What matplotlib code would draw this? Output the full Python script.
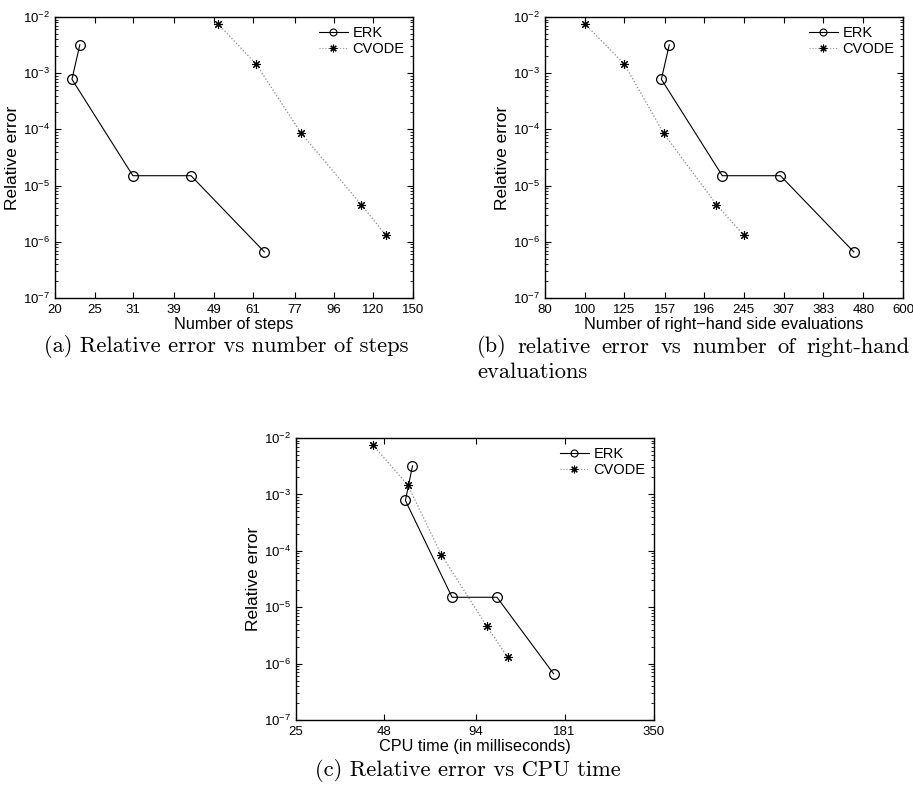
import numpy as np
import matplotlib
matplotlib.use("Agg")
import matplotlib.pyplot as plt
from matplotlib.lines import Line2D
from matplotlib.ticker import LogLocator, NullFormatter, NullLocator

plt.rcParams['font.family'] = ['Liberation Sans', 'DejaVu Sans']
plt.rcParams['mathtext.fontset'] = 'custom'
plt.rcParams['mathtext.rm'] = 'Liberation Sans'
plt.rcParams['mathtext.it'] = 'Liberation Sans:italic'

# data
erk_err = [3.2e-3, 7.8e-4, 1.5e-5, 1.5e-5, 6.6e-7]
cvode_err = [7.6e-3, 1.46e-3, 8.5e-5, 4.6e-6, 1.3e-6]

erk_steps = [23, 22, 31, 43, 65]
cvode_steps = [50, 62, 80, 112, 129]

erk_rhs = [161, 154, 217, 301, 455]
cvode_rhs = [100, 125, 156, 210, 245]

erk_cpu = [59, 56, 79, 110, 167]
cvode_cpu = [44, 57, 73, 102, 119]

steps_ticks = [20, 25, 31, 39, 49, 61, 77, 96, 120, 150]
rhs_ticks = [80, 100, 125, 157, 196, 245, 307, 383, 480, 600]
cpu_ticks = [25, 48, 94, 181, 350]

W, H = 913, 796
fig = plt.figure(figsize=(W / 100, H / 100), dpi=100)

ASTER = (8, 2, 0)


def panel(rect, xe, xc, ticks, xlabel):
    ax = fig.add_axes(rect)
    ax.plot(xe, erk_err, '-o', color='black', lw=0.8, ms=7, mfc='none',
            mew=0.9, label='ERK')
    ax.plot(xc, cvode_err, ':', color='#888888', lw=0.9)
    ax.plot(xc, cvode_err, marker=ASTER, color='black', ms=6.5, mew=0.8, ls='none')
    ax.set_xscale('log')
    ax.set_yscale('log')
    ax.set_xlim(ticks[0], ticks[-1])
    ax.set_ylim(1e-7, 1e-2)
    ax.set_xticks(ticks)
    ax.set_xticklabels([str(t) for t in ticks])
    ax.xaxis.set_minor_locator(NullLocator())
    ax.yaxis.set_major_locator(LogLocator(base=10, numticks=10))
    ax.yaxis.set_minor_locator(LogLocator(base=10, subs=np.arange(2, 10), numticks=10))
    ax.yaxis.set_minor_formatter(NullFormatter())
    ax.tick_params(which='both', direction='in', top=True, right=True, labelsize=9.5)
    ax.tick_params(axis='x', pad=4)
    ax.tick_params(which='major', length=4, width=0.8)
    ax.tick_params(which='minor', length=2, width=0.6)
    for s in ax.spines.values():
        s.set_linewidth(1.0)
    ax.set_xlabel(xlabel, fontsize=11.7, labelpad=1)
    ax.set_ylabel('Relative error', fontsize=12.5, labelpad=2)
    h1 = Line2D([], [], color='black', lw=0.8, marker='o', mfc='none', ms=5, mew=0.8)
    h2 = Line2D([], [], color='#999999', ls=':', lw=0.8, marker=ASTER, mfc='black',
                mec='black', ms=5.5, mew=0.8)
    ax.legend([h1, h2], ['ERK', 'CVODE'], loc='upper right', frameon=False,
              fontsize=10.5, handlelength=2.0, handletextpad=0.3, borderaxespad=0.2,
              labelspacing=0.15)
    return ax


def fx(px):
    return px / W


def fy(py):
    return 1 - py / H


panel([fx(55), fy(298), fx(358), (298 - 17) / H], erk_steps, cvode_steps,
      steps_ticks, 'Number of steps')
panel([fx(545), fy(298), fx(358), (298 - 17) / H], erk_rhs, cvode_rhs,
      rhs_ticks, 'Number of right\u2212hand side evaluations')
panel([fx(296), fy(720), fx(358), (720 - 438) / H], erk_cpu, cvode_cpu,
      cpu_ticks, 'CPU time (in milliseconds)')

cap = dict(fontsize=16.2, family=['cmr10', 'DejaVu Serif'], va='center')
fig.text(fx(226), fy(347), '(a) Relative error vs number of steps', ha='center', **cap)

# justified first line of caption (b)
words = ['(b)', 'relative', 'error', 'vs', 'number', 'of', 'right-hand']
fig.canvas.draw()
r = fig.canvas.get_renderer()
objs = [fig.text(0, fy(347), w, ha='left', **cap) for w in words]
widths = [o.get_window_extent(r).width for o in objs]
x0, x1 = 477, 910
gap = (x1 - x0 - sum(widths)) / (len(words) - 1)
x = x0
for o, w in zip(objs, widths):
    o.set_x(fx(x))
    x += w + gap
fig.text(fx(477), fy(372), 'evaluations', ha='left', **cap)

fig.text(fx(468), fy(771), '(c) Relative error vs CPU time', ha='center', **cap)

fig.savefig('out.png', dpi=100)
